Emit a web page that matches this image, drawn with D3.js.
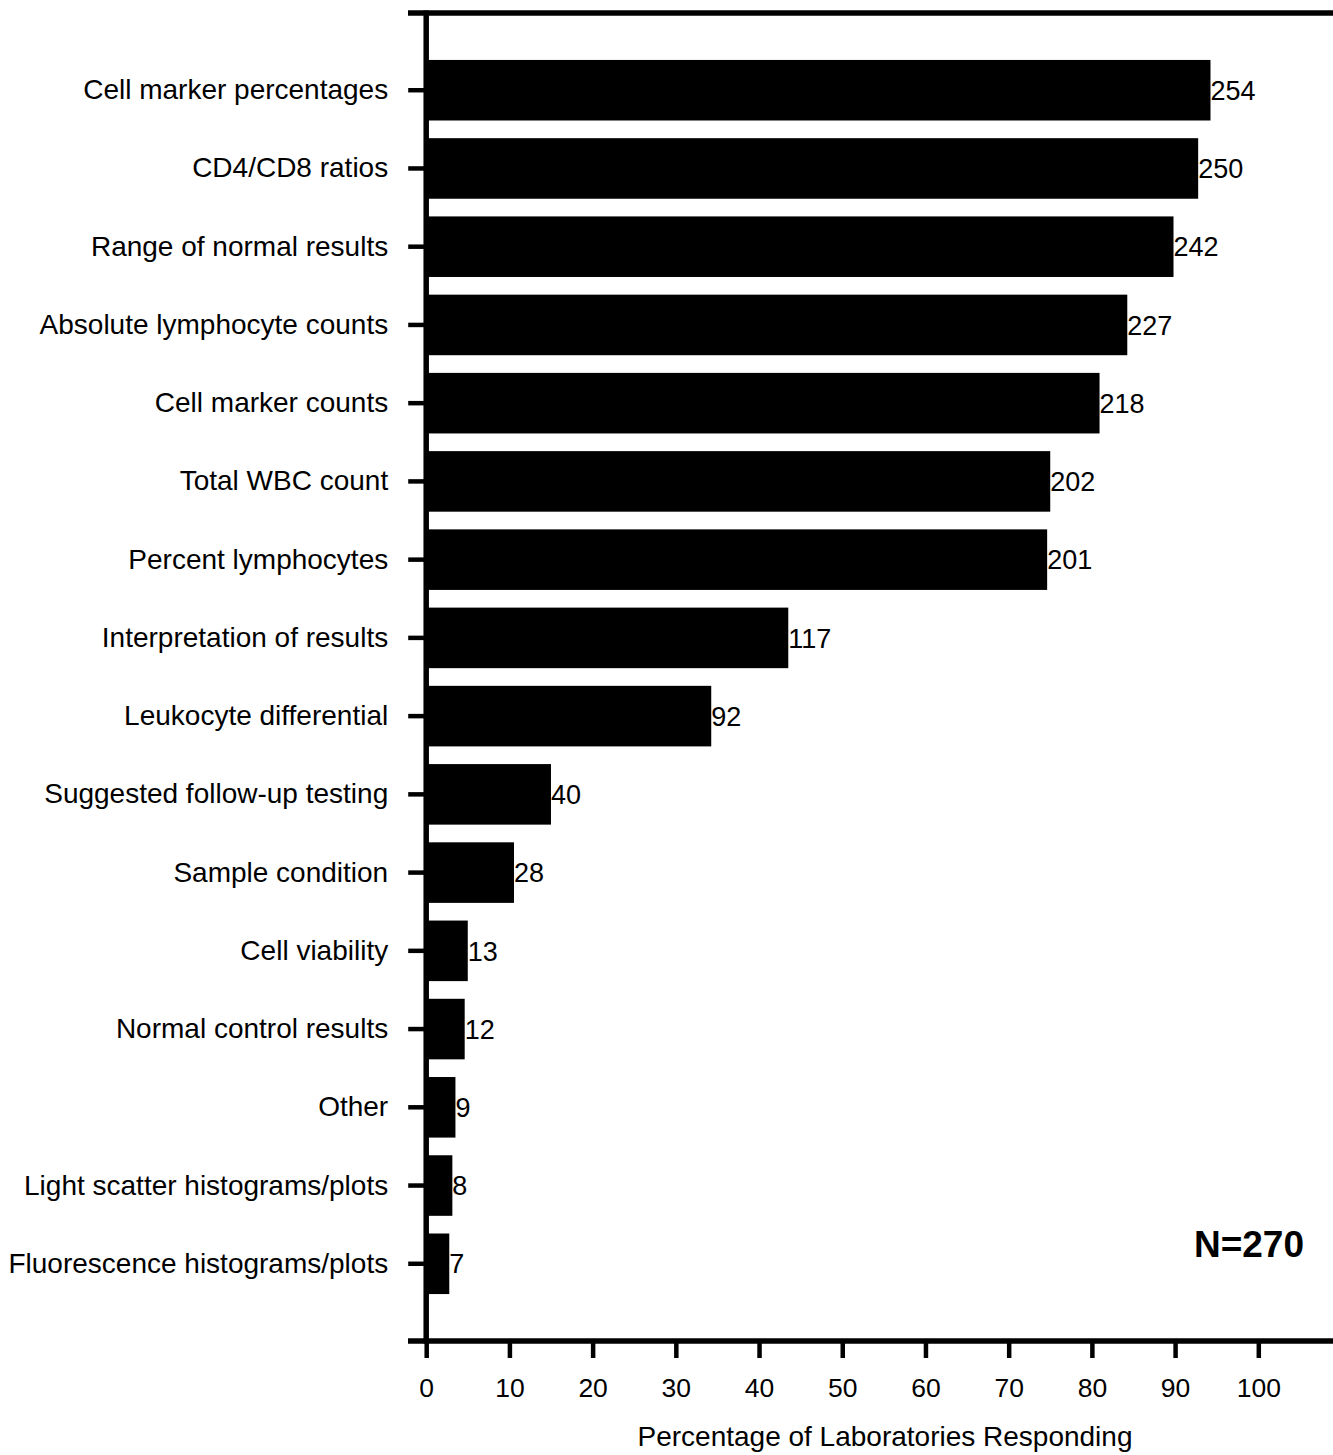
<!DOCTYPE html>
<html>
<head>
<meta charset="utf-8">
<script src="https://cdn.jsdelivr.net/npm/d3@7"></script>
<style>
  html, body { margin: 0; padding: 0; background: #fff; }
  svg { display: block; font-family: Arial, "Liberation Sans", sans-serif; }
</style>
</head>
<body>
<script>
const categories = [
  "Cell marker percentages",
  "CD4/CD8 ratios",
  "Range of normal results",
  "Absolute lymphocyte counts",
  "Cell marker counts",
  "Total WBC count",
  "Percent lymphocytes",
  "Interpretation of results",
  "Leukocyte differential",
  "Suggested follow-up testing",
  "Sample condition",
  "Cell viability",
  "Normal control results",
  "Other",
  "Light scatter histograms/plots",
  "Fluorescence histograms/plots"
];
const counts = [254, 250, 242, 227, 218, 202, 201, 117, 92, 40, 28, 13, 12, 9, 8, 7];
const totalN = 270;
const xTicks = [0, 10, 20, 30, 40, 50, 60, 70, 80, 90, 100];
const xTitle = "Percentage of Laboratories Responding";
const nLabel = "N=270";

const W = 1333, H = 1455;
const FONT = "Arial, 'Liberation Sans', sans-serif";
const svg = d3.select("body").append("svg").attr("width", W).attr("height", H);

const x0 = 426.2, x100 = 1258.3;
const x = d3.scaleLinear().domain([0, 100]).range([x0, x100]);
const yTop = 13, yBot = 1341;
const y = d3.scaleBand().domain(categories).range([yTop, yBot])
  .paddingInner(0.226).paddingOuter(0.6);

const data = categories.map((c, i) => ({ cat: c, count: counts[i], pct: counts[i] / totalN * 100 }));

// bars
svg.append("g").selectAll("rect").data(data).join("rect")
  .attr("x", x(0))
  .attr("y", d => y(d.cat))
  .attr("width", d => x(d.pct) - x(0) + 1.5)
  .attr("height", y.bandwidth())
  .attr("fill", "#000");

// value labels
svg.append("g").selectAll("text").data(data).join("text")
  .attr("x", d => x(d.pct) + 1.5)
  .attr("y", d => y(d.cat) + y.bandwidth() / 2)
  .attr("dy", "0.36em")
  .attr("font-size", 27)
  .attr("fill", "#000")
  .text(d => d.count);

// left axis
const yAxis = d3.axisLeft(y).tickSize(18).tickPadding(20);
const gy = svg.append("g").attr("transform", `translate(${x0},0)`).call(yAxis);
gy.select(".domain").remove();
gy.selectAll(".tick line").attr("stroke", "#000").attr("stroke-width", 4.5);
gy.selectAll(".tick text").attr("font-size", 28).attr("fill", "#000")
  .attr("font-family", FONT);

// frame lines
const frame = svg.append("g").attr("stroke", "#000").attr("stroke-width", 5.5).attr("fill", "none");
frame.append("line").attr("x1", x0).attr("x2", x0).attr("y1", yTop - 2.5).attr("y2", yBot + 2.5);
frame.append("line").attr("x1", 408).attr("x2", W).attr("y1", yTop).attr("y2", yTop);
frame.append("line").attr("x1", 408).attr("x2", W).attr("y1", yBot).attr("y2", yBot);

// bottom axis
const xAxis = d3.axisBottom(x).tickValues(xTicks).tickSize(17).tickPadding(20).tickFormat(d3.format("d"));
const gx = svg.append("g").attr("transform", `translate(0,${yBot})`).call(xAxis);
gx.select(".domain").remove();
gx.selectAll(".tick line").attr("stroke", "#000").attr("stroke-width", 4.5);
gx.selectAll(".tick text").attr("font-size", 26.5).attr("fill", "#000")
  .attr("font-family", FONT);

// axis title
svg.append("text")
  .attr("x", 885).attr("y", 1446)
  .attr("text-anchor", "middle")
  .attr("font-size", 28)
  .attr("fill", "#000")
  .text(xTitle);

// N label
svg.append("text")
  .attr("x", 1304).attr("y", 1257)
  .attr("text-anchor", "end")
  .attr("font-size", 37)
  .attr("font-weight", "bold")
  .attr("fill", "#000")
  .text(nLabel);
</script>
</body>
</html>
